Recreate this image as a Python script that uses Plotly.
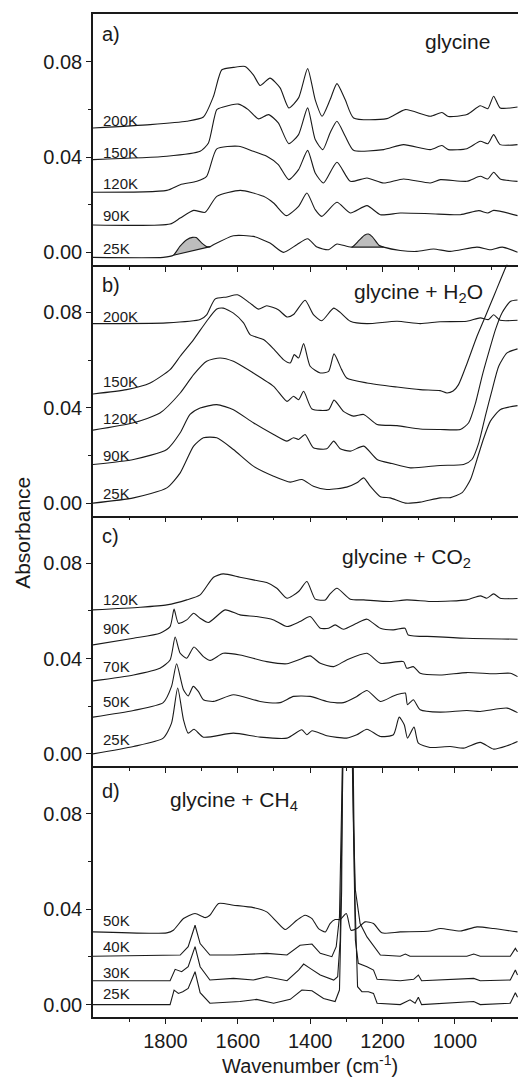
import plotly.graph_objects as go
from plotly.subplots import make_subplots

# ---------------- Panel a) glycine ----------------
a_200K_wn = [2000,1842,1741,1695,1667,1644,1612,1580,1557,1538,1511,1483,1459,1432,1407,1386,1367,1345,1326,1303,1280,1188,1137,1068,1036,1018,967,930,909,893,875,827]
a_200K_abs = [0.0522,0.0536,0.055,0.0568,0.0655,0.0766,0.0776,0.078,0.0745,0.070,0.0731,0.069,0.0606,0.0648,0.0771,0.064,0.0571,0.064,0.0708,0.064,0.0564,0.0561,0.0599,0.0571,0.0587,0.057,0.0578,0.0615,0.0603,0.0655,0.0606,0.061]
a_150K_wn = [2000,1796,1704,1681,1658,1640,1598,1571,1543,1515,1488,1459,1432,1407,1386,1365,1345,1326,1303,1280,1197,1142,1068,1036,1018,967,930,909,893,875,827]
a_150K_abs = [0.0389,0.0403,0.0424,0.0459,0.0599,0.061,0.0622,0.0599,0.056,0.0578,0.0543,0.0456,0.0494,0.0606,0.0473,0.0431,0.0501,0.055,0.0487,0.0428,0.0431,0.0452,0.0431,0.0448,0.0431,0.0435,0.0466,0.0456,0.0494,0.0452,0.0452]
a_120K_wn = [2000,1796,1759,1713,1686,1658,1598,1557,1520,1488,1459,1432,1407,1386,1363,1326,1289,1243,1197,1142,1068,1040,967,930,909,893,875,827]
a_120K_abs = [0.0252,0.026,0.0284,0.0298,0.0319,0.0434,0.0445,0.0424,0.0403,0.0368,0.0305,0.0347,0.0428,0.0333,0.0291,0.0378,0.0298,0.0312,0.0291,0.0308,0.0291,0.0305,0.0298,0.0319,0.0308,0.0336,0.0308,0.0298]
a_90K_wn = [2000,1787,1759,1722,1690,1658,1593,1529,1501,1466,1432,1409,1386,1368,1326,1289,1243,1206,1151,1068,985,934,909,893,827]
a_90K_abs = [0.0115,0.0119,0.0144,0.0176,0.0168,0.0235,0.026,0.0235,0.0207,0.0154,0.0193,0.0249,0.0179,0.0151,0.021,0.0165,0.0196,0.0158,0.0165,0.0162,0.0158,0.0175,0.0165,0.0176,0.0154]
a_25K_wn = [2000,1806,1778,1760,1741,1725,1715,1700,1686,1676,1667,1612,1557,1511,1474,1437,1407,1381,1349,1326,1285,1265,1250,1239,1228,1210,1197,1151,1105,1059,1013,939,902,869,827]
a_25K_abs = [-0.0021,-0.0021,-0.0012,0.0025,0.0053,0.0063,0.0062,0.004,0.0024,0.0024,0.0032,0.007,0.0067,0.0039,0.0,0.0032,0.0057,0.0022,0.0011,0.0035,0.0022,0.005,0.0072,0.0077,0.0065,0.003,0.0022,0.0008,0.0004,0.0014,0.0004,0.0022,0.0011,0.0022,0.0]
# shaded bands on the 25K spectrum
shade1_wn = [1778,1760,1741,1725,1715,1700,1686,1676]
shade1_abs = [-0.0012,0.0025,0.0053,0.0063,0.0062,0.004,0.0024,0.0024]
shade2_wn = [1285,1265,1250,1239,1228,1210,1197]
shade2_abs = [0.0022,0.005,0.0072,0.0077,0.0065,0.003,0.0022]

# ---------------- Panel b) glycine + H2O ----------------
b_200K_wn = [2000,1796,1704,1686,1663,1630,1601,1566,1543,1520,1488,1464,1446,1414,1391,1368,1335,1317,1289,1243,1160,1096,1041,967,930,907,893,875,827]
b_200K_abs = [0.0753,0.0756,0.077,0.079,0.0856,0.0865,0.0874,0.0839,0.0814,0.0828,0.0811,0.0781,0.0791,0.0851,0.0791,0.0765,0.0818,0.08,0.0763,0.0753,0.0763,0.0753,0.0761,0.0763,0.0777,0.077,0.079,0.0767,0.0767]
b_150K_wn = [2000,1907,1842,1787,1759,1722,1686,1658,1640,1612,1584,1566,1529,1501,1474,1455,1444,1432,1418,1400,1372,1349,1334,1313,1299,1243,1160,1096,1041,1022,1005,990,966,939,916,893,874,851,827]
b_150K_abs = [0.0458,0.0476,0.0504,0.056,0.0616,0.0686,0.0763,0.0814,0.0818,0.0797,0.0756,0.0707,0.0686,0.0647,0.0602,0.0588,0.0623,0.0609,0.0669,0.0574,0.0546,0.0553,0.0626,0.056,0.0525,0.0504,0.0487,0.0476,0.0472,0.0462,0.047,0.0497,0.0588,0.07,0.0783,0.0867,0.0937,0.102,0.11]
b_120K_wn = [2000,1888,1815,1759,1722,1686,1649,1612,1557,1501,1464,1446,1432,1418,1395,1349,1334,1308,1280,1252,1215,1160,1096,1041,985,962,943,925,907,888,870,847,827]
b_120K_abs = [0.0306,0.0337,0.0378,0.0462,0.0539,0.0595,0.0609,0.0595,0.0546,0.049,0.0427,0.0448,0.0434,0.0469,0.0395,0.0392,0.0432,0.0385,0.0365,0.0372,0.033,0.0325,0.0311,0.0309,0.0309,0.0337,0.042,0.0532,0.063,0.0728,0.0798,0.0846,0.0852]
b_90K_wn = [2000,1888,1796,1759,1732,1704,1658,1612,1557,1501,1464,1446,1432,1414,1391,1354,1335,1317,1289,1252,1215,1174,1123,1041,976,953,934,916,897,879,856,827]
b_90K_abs = [0.0162,0.0183,0.0225,0.0295,0.0372,0.0399,0.0413,0.0392,0.0337,0.0288,0.026,0.0274,0.0267,0.0288,0.0232,0.0228,0.026,0.0228,0.0218,0.0239,0.0183,0.0166,0.0148,0.0158,0.0162,0.0183,0.0253,0.0365,0.0476,0.0574,0.063,0.0647]
b_25K_wn = [2000,1888,1796,1759,1722,1695,1658,1612,1557,1501,1455,1423,1391,1354,1299,1271,1252,1234,1206,1179,1137,1096,1041,1012,980,957,939,920,902,874,827]
b_25K_abs = [0.0,0.0022,0.0064,0.0127,0.0239,0.0274,0.0274,0.0225,0.0155,0.0113,0.0088,0.0099,0.0071,0.0057,0.0067,0.0085,0.0106,0.0071,0.0027,0.0022,0.0,0.0004,0.0022,0.0023,0.0044,0.0099,0.0183,0.0274,0.0344,0.0393,0.0409]

# ---------------- Panel c) glycine + CO2 ----------------
c_120K_wn = [2000,1870,1796,1741,1704,1667,1640,1594,1557,1520,1492,1464,1432,1409,1386,1358,1345,1326,1289,1252,1179,1133,1059,967,930,912,893,875,827]
c_120K_abs = [0.0604,0.0615,0.0625,0.0646,0.0667,0.0741,0.0755,0.0741,0.073,0.0719,0.0695,0.0653,0.0681,0.0723,0.0649,0.0646,0.0671,0.0695,0.0649,0.0646,0.0639,0.0646,0.0639,0.0646,0.0663,0.0653,0.0671,0.0653,0.0652]
c_90K_wn = [2000,1888,1815,1787,1776,1764,1741,1722,1704,1681,1635,1594,1548,1501,1464,1428,1400,1372,1349,1331,1308,1271,1243,1206,1170,1138,1129,1059,967,827]
c_90K_abs = [0.0457,0.0485,0.0506,0.0534,0.0607,0.0548,0.0562,0.059,0.0569,0.0551,0.0604,0.0583,0.0576,0.0562,0.0534,0.0555,0.0576,0.0527,0.0527,0.0541,0.0523,0.0548,0.0565,0.0527,0.052,0.0527,0.0499,0.0492,0.0485,0.0481]
c_70K_wn = [2000,1888,1815,1787,1773,1759,1741,1721,1695,1676,1640,1594,1520,1464,1428,1400,1372,1335,1299,1243,1206,1142,1133,1115,1096,1041,967,893,847,827]
c_70K_abs = [0.0306,0.0331,0.0359,0.0394,0.049,0.0422,0.0401,0.0448,0.0408,0.0392,0.0422,0.0415,0.0387,0.0378,0.0397,0.0411,0.038,0.0366,0.0394,0.0422,0.038,0.0387,0.0359,0.0366,0.0338,0.0331,0.0341,0.0336,0.0338,0.0324]
c_50K_wn = [2000,1888,1806,1783,1769,1750,1737,1723,1709,1695,1667,1612,1538,1483,1446,1400,1354,1308,1271,1243,1206,1170,1151,1137,1131,1115,1096,1041,967,930,856,827]
c_50K_abs = [0.0154,0.0182,0.0215,0.0283,0.0378,0.0269,0.0243,0.0283,0.0262,0.0227,0.022,0.0248,0.022,0.0215,0.0241,0.0241,0.022,0.0215,0.0241,0.0266,0.022,0.0243,0.0252,0.0255,0.0206,0.0227,0.0185,0.0175,0.0182,0.0178,0.0192,0.0173]
c_25K_wn = [2000,1888,1806,1783,1766,1750,1737,1721,1695,1612,1538,1464,1423,1409,1395,1354,1299,1271,1243,1206,1170,1154,1140,1131,1113,1101,1069,1013,976,930,893,856,827]
c_25K_abs = [0.0,0.0031,0.0066,0.0129,0.0276,0.0143,0.0087,0.0103,0.007,0.0087,0.007,0.0066,0.0101,0.008,0.0097,0.0076,0.0066,0.008,0.0103,0.0073,0.008,0.0154,0.0122,0.0066,0.0112,0.0045,0.0027,0.0031,0.0024,0.0048,0.002,0.0034,0.0052]

# ---------------- Panel d) glycine + CH4 ----------------
d_50K_wn = [2000,1796,1778,1750,1718,1690,1677,1653,1612,1557,1520,1492,1469,1437,1414,1395,1377,1358,1345,1331,1317,1300,1287,1271,1248,1225,1202,1151,1068,1040,985,939,893,827]
d_50K_abs = [0.0305,0.0301,0.0312,0.0361,0.0382,0.0365,0.0375,0.0424,0.0417,0.0407,0.0389,0.0347,0.0315,0.0354,0.0375,0.0361,0.0319,0.0305,0.034,0.0357,0.0357,0.0382,0.0312,0.0319,0.0347,0.034,0.0301,0.0305,0.0309,0.0319,0.0309,0.0326,0.0319,0.0305]
d_40K_wn = [2000,1759,1737,1718,1704,1677,1612,1520,1464,1428,1395,1372,1340,1328,1319,1313,1309,1284,1280,1275,1262,1243,1220,1206,1151,1137,1124,967,948,930,847,833,827]
d_40K_abs = [0.0203,0.0208,0.0243,0.0333,0.0256,0.0208,0.0208,0.0215,0.0208,0.0249,0.0254,0.0215,0.0201,0.0243,0.0368,0.08,0.115,0.115,0.075,0.048,0.034,0.0284,0.0236,0.0208,0.0203,0.0212,0.0203,0.0203,0.0212,0.0203,0.0203,0.0236,0.0222]
d_30K_wn = [2000,1787,1773,1755,1737,1718,1704,1677,1612,1557,1520,1464,1432,1418,1400,1372,1335,1324,1317,1312,1308,1285,1280,1275,1267,1243,1225,1215,1151,1114,1101,1092,948,930,847,833,827]
d_30K_abs = [0.01,0.01,0.0148,0.0138,0.0159,0.0243,0.0159,0.0103,0.011,0.0103,0.0117,0.01,0.0145,0.017,0.0152,0.0124,0.0103,0.0117,0.027,0.0758,0.115,0.115,0.0758,0.027,0.0173,0.0159,0.0145,0.0106,0.01,0.0106,0.0124,0.01,0.011,0.01,0.0103,0.0145,0.0124]
d_25K_wn = [2000,1787,1776,1764,1752,1737,1718,1704,1677,1594,1548,1501,1455,1423,1395,1363,1331,1319,1313,1310,1282,1277,1269,1257,1239,1225,1215,1151,1124,1110,1101,1092,948,930,847,833,827]
d_25K_abs = [0.0,0.0,0.0061,0.0047,0.0054,0.0068,0.0138,0.005,0.0006,0.0013,0.0022,0.0006,0.0022,0.0061,0.0058,0.0026,0.0013,0.0061,0.048,0.115,0.115,0.048,0.0075,0.0054,0.0054,0.0047,0.0006,0.0,0.002,0.0006,0.0031,0.0,0.0013,0.0,0.0006,0.005,0.0031]

# ---------------- Labels ----------------
panel_letters = ["a)", "b)", "c)", "d)"]
panel_titles = ["glycine", "glycine + H<sub>2</sub>O", "glycine + CO<sub>2</sub>", "glycine + CH<sub>4</sub>"]
a_temps = ["200K", "150K", "120K", "90K", "25K"]
a_temp_y = [0.0554, 0.0421, 0.0287, 0.0154, 0.0018]
b_temps = ["200K", "150K", "120K", "90K", "25K"]
b_temp_y = [0.0781, 0.0511, 0.0354, 0.0200, 0.0041]
c_temps = ["120K", "90K", "70K", "50K", "25K"]
c_temp_y = [0.0646, 0.0527, 0.0366, 0.0220, 0.0059]
d_temps = ["50K", "40K", "30K", "25K"]
d_temp_y = [0.0354, 0.0243, 0.0134, 0.0045]
y_tick_vals = [0.0, 0.04, 0.08]
y_tick_text = ["0.00", "0.04", "0.08"]
x_tick_vals = [1800, 1600, 1400, 1200, 1000]
x_tick_text = ["1800", "1600", "1400", "1200", "1000"]

FONT = "Liberation Sans, Arial, Helvetica, sans-serif"
LC = "#1a1a1a"

fig = make_subplots(rows=4, cols=1, shared_xaxes=True, vertical_spacing=0)


def add_spec(row, wn, ab, shape="spline"):
    assert len(wn) == len(ab)
    line = dict(color=LC, width=1.1, shape=shape)
    if shape == "spline":
        line["smoothing"] = 0.6
    fig.add_trace(go.Scatter(x=wn, y=ab, mode="lines", line=line,
                             showlegend=False, hoverinfo="skip"), row=row, col=1)


def add_shade(row, wn, ab):
    fig.add_trace(go.Scatter(x=wn, y=ab, mode="lines", fill="toself",
                             fillcolor="#bdbdbd", line=dict(width=0, color=LC),
                             showlegend=False, hoverinfo="skip"), row=row, col=1)
    fig.add_trace(go.Scatter(x=[wn[0], wn[-1]], y=[ab[0], ab[-1]], mode="lines",
                             line=dict(color=LC, width=1.1),
                             showlegend=False, hoverinfo="skip"), row=row, col=1)


# panel a
add_shade(1, shade1_wn, shade1_abs)
add_shade(1, shade2_wn, shade2_abs)
for wn, ab in [(a_200K_wn, a_200K_abs), (a_150K_wn, a_150K_abs), (a_120K_wn, a_120K_abs),
               (a_90K_wn, a_90K_abs), (a_25K_wn, a_25K_abs)]:
    add_spec(1, wn, ab)
# panel b
for wn, ab in [(b_200K_wn, b_200K_abs), (b_150K_wn, b_150K_abs), (b_120K_wn, b_120K_abs),
               (b_90K_wn, b_90K_abs), (b_25K_wn, b_25K_abs)]:
    add_spec(2, wn, ab)
# panel c
for wn, ab in [(c_120K_wn, c_120K_abs), (c_90K_wn, c_90K_abs), (c_70K_wn, c_70K_abs),
               (c_50K_wn, c_50K_abs), (c_25K_wn, c_25K_abs)]:
    add_spec(3, wn, ab)
# panel d
add_spec(4, d_50K_wn, d_50K_abs)
for wn, ab in [(d_40K_wn, d_40K_abs), (d_30K_wn, d_30K_abs), (d_25K_wn, d_25K_abs)]:
    add_spec(4, wn, ab, shape="linear")

# temperature labels
for row, temps, ys in [(1, a_temps, a_temp_y), (2, b_temps, b_temp_y),
                       (3, c_temps, c_temp_y), (4, d_temps, d_temp_y)]:
    for t, yv in zip(temps, ys):
        fig.add_annotation(row=row, col=1, x=1978, y=yv, text=t, showarrow=False,
                           xanchor="left", yanchor="middle",
                           font=dict(family=FONT, size=15, color=LC))

# panel letters and titles
letter_y = [0.0918, 0.0916, 0.0916, 0.0897]
title_x = [1087, 1284, 1317, 1793]
title_y = [0.0884, 0.0881, 0.0821, 0.0856]
for i in range(4):
    fig.add_annotation(row=i + 1, col=1, x=1981, y=letter_y[i], text=panel_letters[i],
                       showarrow=False, xanchor="left", yanchor="middle",
                       font=dict(family=FONT, size=20, color=LC))
    fig.add_annotation(row=i + 1, col=1, x=title_x[i], y=title_y[i], text=panel_titles[i],
                       showarrow=False, xanchor="left", yanchor="middle",
                       font=dict(family=FONT, size=21, color=LC))

for r in range(1, 5):
    fig.update_xaxes(row=r, col=1, range=[2000, 825.7], showline=True, linecolor=LC,
                     linewidth=1.5, mirror=(r == 1), ticks="outside", ticklen=5,
                     tickwidth=1.2, tickcolor=LC, tickvals=x_tick_vals, ticktext=x_tick_text,
                     minor=dict(ticks="outside", tickvals=[1900, 1700, 1500, 1300, 1100, 900],
                                ticklen=3, tickwidth=1.2, tickcolor=LC),
                     showgrid=False, zeroline=False, showticklabels=(r == 4),
                     tickfont=dict(family=FONT, size=20, color=LC))
    fig.update_yaxes(row=r, col=1, range=[-0.0052, 0.1], showline=True, linecolor=LC,
                     linewidth=1.5, mirror=False, ticks="outside", ticklen=5, tickwidth=1.2,
                     tickcolor=LC, tickvals=y_tick_vals, ticktext=y_tick_text,
                     minor=dict(ticks="outside", tickvals=[0.02, 0.06], ticklen=3,
                                tickwidth=1.2, tickcolor=LC),
                     showgrid=False, zeroline=False,
                     tickfont=dict(family=FONT, size=20, color=LC))

fig.add_annotation(xref="paper", yref="paper", x=0.51, y=-0.047,
                   text="Wavenumber (cm<sup>-1</sup>)", showarrow=False,
                   xanchor="center", yanchor="middle",
                   font=dict(family=FONT, size=20, color=LC))
fig.add_annotation(xref="paper", yref="paper", x=-0.165, y=0.4826,
                   text="Absorbance", showarrow=False, textangle=-90,
                   xanchor="center", yanchor="middle",
                   font=dict(family=FONT, size=21, color=LC))

fig.update_layout(width=518, height=1079, margin=dict(l=93, r=0, t=14, b=62),
                  paper_bgcolor="white", plot_bgcolor="white", showlegend=False,
                  font=dict(family=FONT, color=LC))

fig.write_html("out.html")
